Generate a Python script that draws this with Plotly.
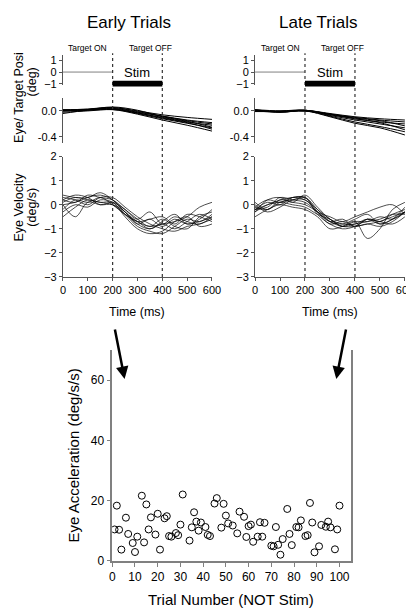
import plotly.graph_objects as go

W, H = 414, 608
FONT = "Liberation Sans, Arial, sans-serif"

# ---------------- data ----------------
time_vel = [0, 50, 100, 150, 200, 250, 300, 350, 400, 450, 500, 550, 600]
early_vel = [
    [0.4, 0.3, 0.3, 0.5, 0.2, -0.3, -0.7, -0.9, -0.8, -0.7, -0.5, -0.1, 0.1],
    [0.2, 0.1, 0.4, 0.3, 0.2, -0.2, -0.6, -0.3, -0.8, -0.5, -0.7, -0.8, -0.5],
    [-0.5, -0.1, 0.2, 0.1, 0.1, -0.4, -0.9, -1.1, -1.2, -0.9, -0.6, -0.7, -0.4],
    [0.0, -0.5, 0.1, 0.0, 0.0, -0.3, -0.8, -1.0, -0.7, -0.4, -0.8, -0.6, -0.2],
    [0.3, 0.2, 0.0, 0.3, 0.3, -0.1, -0.5, -0.8, -1.0, -1.1, -0.9, -0.8, -0.6],
    [0.1, 0.3, 0.2, 0.1, 0.0, -0.4, -0.7, -0.6, -0.5, -0.8, -0.4, -0.5, -0.7],
    [-0.3, 0.0, -0.1, 0.2, 0.1, -0.5, -1.0, -1.2, -1.1, -0.7, -0.5, -0.9, -0.8],
    [0.2, 0.4, 0.3, 0.0, 0.1, -0.2, -0.6, -0.9, -0.6, -0.9, -1.0, -0.5, -0.3],
    [0.0, 0.1, 0.3, 0.4, 0.2, -0.3, -0.8, -0.6, -0.9, -0.6, -0.8, -0.7, -0.5],
    [-0.2, 0.2, 0.1, 0.3, 0.0, -0.4, -0.7, -1.0, -0.8, -1.0, -0.7, -0.4, -0.6],
]
late_vel = [
    [-0.1, -0.2, 0.1, 0.2, 0.3, -0.2, -0.7, -0.9, -0.9, -0.8, -0.7, -0.5, -0.3],
    [-0.3, 0.2, 0.3, 0.1, 0.4, -0.1, -0.6, -0.8, -0.8, -0.6, -0.8, -0.6, -0.3],
    [0.0, -0.3, -0.1, 0.2, 0.2, -0.3, -0.5, -0.7, -0.5, -0.3, -0.1, 0.0, -0.4],
    [-0.5, -0.2, 0.0, -0.1, -0.2, -0.5, -1.0, -0.9, -0.7, -1.4, -1.0, -0.2, 0.1],
    [-0.2, 0.0, 0.2, 0.3, 0.3, -0.4, -0.8, -1.0, -0.9, -0.6, -0.7, -0.8, -0.5],
    [-0.1, 0.2, 0.1, 0.3, 0.2, -0.2, -0.6, -0.9, -0.7, -0.7, -0.5, -0.6, -0.3],
    [-0.2, -0.1, 0.3, 0.2, 0.1, -0.3, -0.7, -0.6, -0.9, -0.6, -0.7, -0.4, -0.2],
    [0.1, -0.2, 0.2, 0.1, 0.0, -0.3, -0.7, -0.8, -0.6, -0.4, -0.8, -0.6, -0.1],
    [-0.3, 0.0, 0.1, 0.0, -0.1, -0.4, -0.6, -0.9, -0.8, -0.7, -0.6, -0.4, -0.4],
    [-0.2, 0.1, 0.0, 0.3, 0.3, -0.3, -0.8, -0.7, -0.9, -0.8, -0.9, -0.7, -0.3],
]

time_pos = [0, 100, 200, 300, 400, 500, 600]
early_pos = [
    [0.01, 0.02, 0.05, 0.00, -0.06, -0.10, -0.13],
    [0.00, 0.02, 0.04, -0.02, -0.08, -0.14, -0.18],
    [-0.04, 0.01, 0.03, -0.03, -0.10, -0.17, -0.22],
    [0.00, 0.02, 0.06, 0.01, -0.09, -0.16, -0.25],
    [0.02, 0.02, 0.03, -0.04, -0.12, -0.19, -0.26],
    [0.00, 0.01, 0.02, -0.05, -0.14, -0.22, -0.31],
    [0.01, 0.03, 0.05, -0.01, -0.08, -0.15, -0.20],
    [-0.02, 0.00, 0.02, -0.03, -0.11, -0.18, -0.28],
]
late_pos = [
    [0.02, 0.00, 0.01, -0.04, -0.09, -0.12, -0.14],
    [0.01, -0.01, 0.01, -0.05, -0.10, -0.14, -0.17],
    [0.00, -0.02, 0.00, -0.06, -0.12, -0.17, -0.20],
    [-0.01, -0.01, 0.00, -0.05, -0.11, -0.15, -0.23],
    [0.02, -0.02, 0.01, -0.07, -0.14, -0.20, -0.26],
    [0.00, -0.01, 0.00, -0.08, -0.17, -0.24, -0.32],
    [0.01, -0.02, 0.00, -0.09, -0.19, -0.26, -0.37],
    [-0.01, 0.00, 0.01, -0.05, -0.12, -0.18, -0.29],
]

target_t = [0, 200]
target_p = [0, 0]
stim_on, stim_off = 200, 400

trial = [1, 2, 3, 4, 6, 7, 9, 10, 11, 13, 14, 15, 16, 17, 19, 20, 21, 23, 24, 25,
         26, 28, 29, 30, 31, 34, 35, 36, 37, 38, 39, 41, 42, 43, 45, 46, 48, 49, 50, 51,
         53, 55, 56, 58, 59, 60, 61, 62, 64, 65, 66, 67, 70, 71, 72, 73, 74, 75, 77, 78,
         79, 81, 82, 83, 85, 86, 87, 88, 89, 91, 92, 94, 95, 96, 98, 99, 100]
accel = [10.4, 18.3, 10.3, 3.7, 14.3, 8.9, 5.9, 2.9, 8.0, 21.6, 6.1, 18.7, 10.4, 14.4, 8.7, 15.6, 3.7, 14.1, 14.8, 8.2,
         8.0, 9.2, 8.5, 12.0, 22.0, 6.7, 11.1, 16.1, 13.0, 10.0, 12.7, 11.2, 8.6, 8.2, 19.0, 20.8, 11.0, 18.9, 15.0, 12.4,
         11.7, 9.1, 16.3, 14.6, 7.9, 11.5, 12.0, 6.3, 8.0, 12.8, 8.0, 12.6, 5.0, 4.8, 11.2, 5.3, 2.0, 7.2, 17.2, 8.9,
         5.2, 11.2, 11.1, 13.4, 8.2, 8.5, 19.2, 12.7, 2.8, 4.8, 11.9, 11.3, 13.0, 11.1, 3.8, 10.4, 18.3]

# ---------------- helpers (pixel -> paper) ----------------
def fx(p):
    return p / W

def fy(p):
    return 1 - p / H

LEFT = [fx(53.5), fx(207)]
RIGHT = [fx(251.3), fx(405.7)]
TOP = [fy(72.1), fy(42.3)]
POS = [fy(132.3), fy(85.7)]
VEL = [fy(268.7), fy(145.7)]

fig = go.Figure()

# top panels: target line
for xa, ya in [("x", "y"), ("x2", "y2")]:
    fig.add_trace(go.Scatter(x=target_t, y=target_p, xaxis=xa, yaxis=ya, mode="lines",
                             line=dict(color="#808080", width=1), hoverinfo="skip"))

# position panels
for data, xa, ya in [(early_pos, "x3", "y3"), (late_pos, "x4", "y4")]:
    for tr in data:
        fig.add_trace(go.Scatter(x=time_pos, y=tr, xaxis=xa, yaxis=ya, mode="lines",
                                 line=dict(color="black", width=1, shape="spline")))

# velocity panels
for data, xa, ya in [(early_vel, "x5", "y5"), (late_vel, "x6", "y6")]:
    for tr in data:
        fig.add_trace(go.Scatter(x=time_vel, y=tr, xaxis=xa, yaxis=ya, mode="lines",
                                 line=dict(color="black", width=0.7, shape="spline", smoothing=1)))

# scatter
fig.add_trace(go.Scatter(x=trial, y=accel, xaxis="x7", yaxis="y7", mode="markers",
                         marker=dict(symbol="circle-open", size=7, color="black",
                                     line=dict(width=1, color="black"))))

axcol = "#555555"
tickfont = dict(family=FONT, size=11, color="black")

def hidden_x(dom, anchor):
    return dict(domain=dom, range=[0, 600], visible=False, anchor=anchor)

def yax(dom, anchor, rng, tv, tt=None):
    d = dict(domain=dom, anchor=anchor, range=rng, tickvals=tv, ticks="outside", ticklen=3,
             tickcolor=axcol, showline=True, linecolor=axcol, linewidth=1, showgrid=False,
             zeroline=False, tickfont=tickfont)
    if tt is not None:
        d["ticktext"] = tt
    return d

def vx(dom, anchor):
    return dict(domain=dom, anchor=anchor, range=[0, 600], tickvals=[0, 100, 200, 300, 400, 500, 600],
                ticks="outside", ticklen=3, tickcolor=axcol, showline=True, linecolor=axcol,
                showgrid=False, zeroline=False, tickfont=tickfont)

fig.update_layout(
    width=W, height=H, margin=dict(l=0, r=0, t=0, b=0),
    paper_bgcolor="white", plot_bgcolor="rgba(0,0,0,0)", showlegend=False,
    font=dict(family=FONT, color="black"),
    xaxis=hidden_x(LEFT, "y"), yaxis=yax(TOP, "x", [-1.05, 1.4], [-1, 0, 1]),
    xaxis2=hidden_x(RIGHT, "y2"), yaxis2=yax(TOP, "x2", [-1.05, 1.4], [-1, 0, 1]),
    xaxis3=hidden_x(LEFT, "y3"), yaxis3=yax(POS, "x3", [-0.5, 0.2], [0, -0.4], ["0.0", "-0.4"]),
    xaxis4=hidden_x(RIGHT, "y4"), yaxis4=yax(POS, "x4", [-0.5, 0.2], [0, -0.4], ["0.0", "-0.4"]),
    xaxis5=vx(LEFT, "y5"), yaxis5=yax(VEL, "x5", [-3, 2], [-3, -2, -1, 0, 1, 2]),
    xaxis6=vx(RIGHT, "y6"), yaxis6=yax(VEL, "x6", [-3, 2], [-3, -2, -1, 0, 1, 2]),
    xaxis7=dict(domain=[fx(104.3), fx(350)], anchor="y7", range=[0, 105],
                tickvals=list(range(0, 101, 10)), ticks="outside", ticklen=4, tickcolor="#808080",
                showline=True, linecolor="#808080", linewidth=1.5, showgrid=False, zeroline=False,
                tickfont=dict(family=FONT, size=12, color="black")),
    yaxis7=dict(domain=[fy(558.7), fy(343.3)], anchor="x7", range=[0, 70],
                tickvals=[0, 20, 40, 60], ticks="outside", ticklen=4, tickcolor="#808080",
                showline=True, mirror=True, linecolor="#808080", linewidth=1.5, showgrid=False,
                zeroline=False, tickfont=dict(family=FONT, size=12, color="black")),
)

shapes = []
for xa in ["x5", "x6"]:
    for t in [stim_on, stim_off]:
        shapes.append(dict(type="line", xref=xa, yref="paper", x0=t, x1=t,
                           y0=fy(268.7), y1=fy(40), line=dict(color="#333333", width=1.2, dash="dot")))
for xa in ["x", "x2"]:
    shapes.append(dict(type="rect", xref=xa, yref="paper", x0=stim_on, x1=stim_off,
                       y0=fy(74), y1=fy(68.3), fillcolor="black", line=dict(width=0)))
fig.update_layout(shapes=shapes)

ann = []
def text(x, y, s, size, xref="paper", angle=0):
    ann.append(dict(x=x, y=y, xref=xref, yref="paper", text=s, showarrow=False,
                    font=dict(family=FONT, size=size, color="black"), textangle=angle,
                    xanchor="center", yanchor="middle"))

text(fx(122), fy(9), "Early Trials", 17)
text(fx(316), fy(9), "Late Trials", 17)
for xa in ["x", "x2"]:
    text(100, fy(34.3), "Target ON", 8.5, xref=xa)
    text(352, fy(34.3), "Target OFF", 8.5, xref=xa)
    text(300, fy(60), "Stim", 13, xref=xa)
text(fx(129.5), fy(305), "Time (ms)", 12.5)
text(fx(329), fy(305), "Time (ms)", 12.5)
text(fx(8), fy(85), "Eye/ Target Posi", 12.5, angle=-90)
text(fx(21.5), fy(69), "(deg)", 12.5, angle=-90)
text(fx(8), fy(197), "Eye Velocity", 12.5, angle=-90)
text(fx(21.5), fy(197), "(deg/s)", 12.5, angle=-90)
text(fx(64), fy(451), "Eye Acceleration (deg/s/s)", 15, angle=-90)
text(fx(227), fy(598), "Trial Number (NOT Stim)", 15)

# arrows
for tipx, tailx in [(117, 107), (335, 345)]:
    ann.append(dict(x=fx(tipx), y=fy(373), xref="paper", yref="paper", ax=tailx - tipx, ay=-51,
                    showarrow=True, arrowhead=2, arrowsize=1, arrowwidth=2.5, arrowcolor="black", text=""))

fig.update_layout(annotations=ann)
fig.write_html("out.html")
